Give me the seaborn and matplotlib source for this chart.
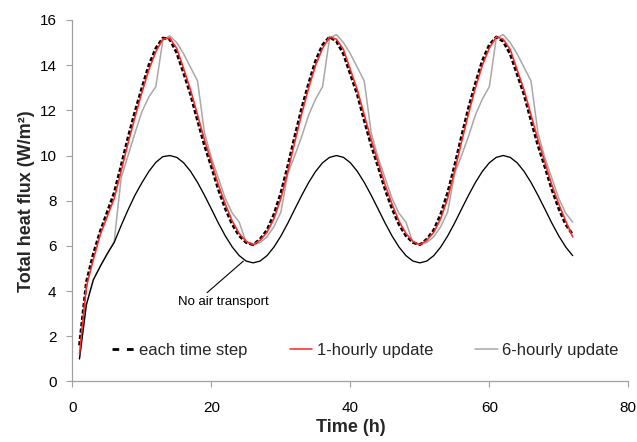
import matplotlib
matplotlib.use("Agg")
import matplotlib.pyplot as plt
import seaborn as sns
import pandas as pd

hours = list(range(1, 73))

each_time_step = [
    1.6, 4.4, 5.65, 6.65, 7.5, 8.35, 9.55, 10.8, 11.95, 13.0, 14.0, 14.75, 15.2, 15.15,
    14.55, 13.65, 12.7, 11.55, 10.45, 9.5, 8.5, 7.65, 6.95, 6.45, 6.15, 6.05,
    6.3, 6.7, 7.4, 8.35, 9.55, 10.85, 12.1, 13.2, 14.2, 14.9, 15.25, 15.05,
    14.5, 13.6, 12.7, 11.55, 10.45, 9.5, 8.5, 7.65, 6.95, 6.45, 6.15, 6.05,
    6.3, 6.7, 7.4, 8.35, 9.55, 10.85, 12.1, 13.2, 14.2, 14.9, 15.25, 15.05,
    14.5, 13.6, 12.7, 11.55, 10.45, 9.5, 8.5, 7.65, 6.95, 6.5,
]

hourly_update = [
    1.2, 4.2, 5.4, 6.5, 7.3, 8.1, 9.3, 10.55, 11.7, 12.8, 13.8, 14.6, 15.15, 15.2,
    14.75, 13.85, 12.9, 11.8, 10.7, 9.7, 8.7, 7.85, 7.1, 6.55, 6.2, 6.05,
    6.25, 6.6, 7.2, 8.1, 9.3, 10.6, 11.85, 13.0, 14.0, 14.75, 15.25, 15.15,
    14.7, 13.8, 12.9, 11.8, 10.7, 9.7, 8.7, 7.85, 7.1, 6.55, 6.2, 6.05,
    6.25, 6.6, 7.2, 8.1, 9.3, 10.6, 11.85, 13.0, 14.0, 14.75, 15.25, 15.15,
    14.7, 13.8, 12.9, 11.8, 10.7, 9.7, 8.7, 7.85, 7.1, 6.4,
]

six_hourly_update = [
    1.0, 3.4, 4.5, 5.1, 5.65, 6.2, 9.0, 10.0, 11.0, 11.95, 12.6, 13.05, 15.1, 15.3,
    15.0, 14.5, 13.9, 13.3, 11.0, 9.9, 9.0, 8.1, 7.45, 7.05, 6.15, 6.05,
    6.15, 6.4, 6.85, 7.5, 9.2, 10.0, 10.85, 11.8, 12.5, 13.05, 15.2, 15.35,
    15.0, 14.5, 13.9, 13.3, 11.0, 9.9, 9.0, 8.1, 7.45, 7.05, 6.15, 6.05,
    6.15, 6.4, 6.85, 7.5, 9.2, 10.0, 10.85, 11.8, 12.5, 13.05, 15.2, 15.35,
    15.0, 14.5, 13.9, 13.3, 11.0, 9.9, 9.0, 8.1, 7.45, 7.05,
]

no_air_transport = [
    1.0, 3.4, 4.5, 5.1, 5.65, 6.15, 6.9, 7.6, 8.25, 8.8, 9.3, 9.7, 9.95, 10.0,
    9.92, 9.68, 9.30, 8.81, 8.24, 7.63, 7.01, 6.44, 5.95, 5.57, 5.33, 5.25,
    5.33, 5.57, 5.95, 6.44, 7.01, 7.63, 8.24, 8.81, 9.30, 9.68, 9.92, 10.0,
    9.92, 9.68, 9.30, 8.81, 8.24, 7.63, 7.01, 6.44, 5.95, 5.57, 5.33, 5.25,
    5.33, 5.57, 5.95, 6.44, 7.01, 7.63, 8.24, 8.81, 9.30, 9.68, 9.92, 10.0,
    9.92, 9.68, 9.30, 8.81, 8.24, 7.63, 7.01, 6.44, 5.95, 5.57,
]

x_ticks = [0, 20, 40, 60, 80]
y_ticks = [0, 2, 4, 6, 8, 10, 12, 14, 16]

df = pd.DataFrame({
    "t": hours,
    "each": each_time_step,
    "h1": hourly_update,
    "h6": six_hourly_update,
    "none": no_air_transport,
})

sns.set_theme(style="white")
plt.rcParams["font.family"] = ["Liberation Sans", "DejaVu Sans"]

fig = plt.figure(figsize=(6.37, 4.42), dpi=100)
ax = fig.add_axes([0.1138, 0.1369, 0.8725, 0.8179])

sns.lineplot(data=df, x="t", y="each", ax=ax, color="black", lw=2.0,
             label="each time step", zorder=3)
ax.lines[-1].set_dashes((1.5, 0.8))
sns.lineplot(data=df, x="t", y="h1", ax=ax, color="#FF2A2A", lw=1.15,
             label="1-hourly update", zorder=4)
sns.lineplot(data=df, x="t", y="h6", ax=ax, color="#A8A8A8", lw=1.1,
             label="6-hourly update", zorder=2)
sns.lineplot(data=df, x="t", y="none", ax=ax, color="black", lw=0.95,
             label="_nolegend_", zorder=2)

ax.annotate("No air transport", xy=(24.6, 5.33), xytext=(21.7, 3.52),
            fontsize=9.5, ha="center", va="center", color="black",
            arrowprops=dict(arrowstyle="-", color="black", lw=0.8,
                            relpos=(0.28, 1.0), shrinkA=0, shrinkB=0))

ax.set_xlim(0, 80)
ax.set_ylim(0, 16)
ax.set_xticks(x_ticks)
ax.set_yticks(y_ticks)
ax.tick_params(axis="both", direction="out", length=4, width=0.8,
               color="#A0A0A0", labelsize=11, labelcolor="black",
               bottom=True, left=True)
ax.tick_params(axis="x", pad=10)
ax.tick_params(axis="y", pad=7.5)
for side in ["top", "right"]:
    ax.spines[side].set_visible(False)
for side in ["left", "bottom"]:
    ax.spines[side].set_color("#A0A0A0")
    ax.spines[side].set_linewidth(0.9)
ax.grid(False)

ax.set_xlabel("Time (h)", fontsize=13, fontweight="bold", labelpad=3)
ax.set_ylabel("Total heat flux (W/m²)", fontsize=13, fontweight="bold", labelpad=3)

leg = ax.legend(loc="center", bbox_to_anchor=(0.527, 0.087), ncol=3, frameon=False,
                fontsize=12, handlelength=1.35, handletextpad=0.25, columnspacing=2.55)
leg.get_lines()[0].set_dashes((2.4, 2.8))

fig.savefig("out.png", dpi=100)
